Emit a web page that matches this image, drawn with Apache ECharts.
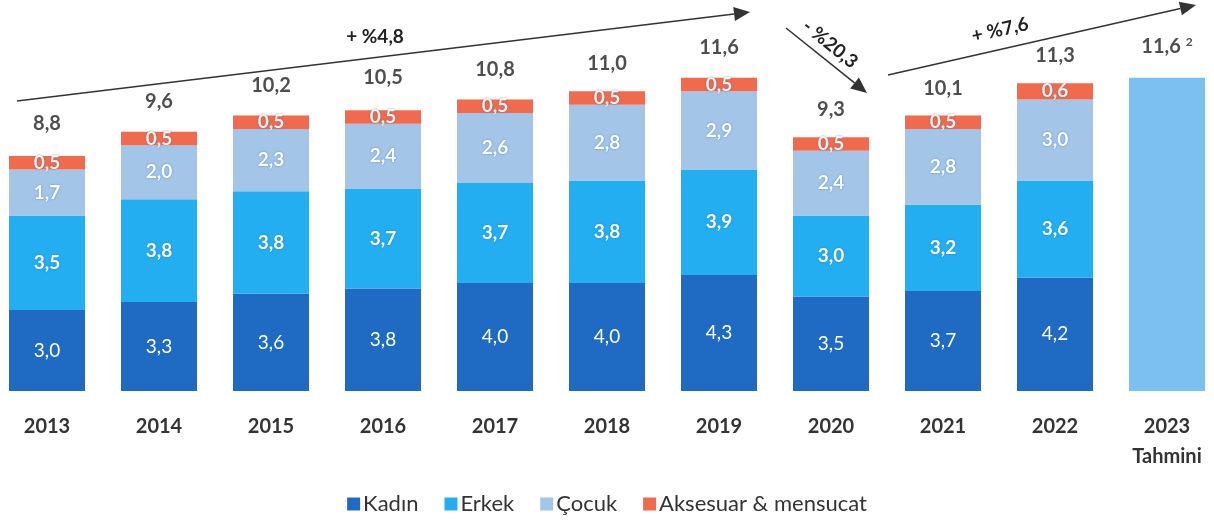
<!DOCTYPE html>
<html>
<head>
<meta charset="utf-8">
<script src="https://cdn.jsdelivr.net/npm/echarts@6/dist/echarts.min.js"></script>
<style>
  html, body { margin: 0; padding: 0; background: #fff; }
  #chart { width: 1214px; height: 522px; }
</style>
</head>
<body>
<div id="chart"></div>
<script>
// veriler
const years = ['2013', '2014', '2015', '2016', '2017', '2018', '2019', '2020', '2021', '2022', '2023\nTahmini']
const kadin = [3.0, 3.3, 3.6, 3.8, 4.0, 4.0, 4.3, 3.5, 3.7, 4.2, null]
const erkek = [3.5, 3.8, 3.8, 3.7, 3.7, 3.8, 3.9, 3.0, 3.2, 3.6, null]
const cocuk = [1.7, 2.0, 2.3, 2.4, 2.6, 2.8, 2.9, 2.4, 2.8, 3.0, null]
const aksesuar = [0.5, 0.5, 0.5, 0.5, 0.5, 0.5, 0.5, 0.5, 0.5, 0.6, null]
const tahmin = [null, null, null, null, null, null, null, null, null, null, 11.6]
const totals = [8.8, 9.6, 10.2, 10.5, 10.8, 11.0, 11.6, 9.3, 10.1, 11.3, 11.6]
const growth = ['+ %4,8', '- %20,3', '+ %7,6']

const chartBox = echarts.init(document.getElementById('chart'))
const fontName = 'Lato, "Open Sans", sans-serif'
const fmt = (v) => String(v.toFixed(1)).replace('.', ',')

// ok ciz
function arrow(x1, y1, x2, y2) {
  const a = Math.atan2(y2 - y1, x2 - x1)
  const len = 16, w = 7
  const bx = x2 - len * Math.cos(a), by = y2 - len * Math.sin(a)
  return [
    { type: 'line', shape: { x1: x1, y1: y1, x2: bx, y2: by }, style: { stroke: '#333', lineWidth: 1.6 } },
    {
      type: 'polygon',
      shape: { points: [[x2, y2], [bx + w * Math.sin(a), by - w * Math.cos(a)], [bx - w * Math.sin(a), by + w * Math.cos(a)]] },
      style: { fill: '#333' }
    }
  ]
}

const segLabel = (color, weight) => ({
  show: true,
  position: 'inside',
  fontFamily: fontName,
  fontSize: 19,
  fontWeight: weight,
  color: color,
  textShadowColor: 'rgba(30,110,200,0.7)',
  textShadowBlur: 2,
  formatter: (p) => fmt(p.value)
})

const mkBar = (name, data, color, labelColor, weight) => ({
  name: name,
  type: 'bar',
  stack: 'a',
  barWidth: 76,
  data: data,
  itemStyle: { color: color },
  label: segLabel(labelColor, weight)
})

const option = {
  backgroundColor: '#fff',
  animation: false,
  grid: { left: -9, right: -9, top: 67, bottom: 131, outerBoundsMode: 'none' },
  xAxis: {
    type: 'category',
    data: years,
    axisLine: { show: false },
    axisTick: { show: false },
    axisLabel: {
      margin: 21,
      fontFamily: fontName,
      fontSize: 20,
      fontWeight: 'bold',
      color: '#333',
      lineHeight: 30,
      interval: 0
    }
  },
  yAxis: { type: 'value', min: 0, max: 12, show: false, splitLine: { show: false } },
  legend: {
    bottom: 2,
    left: 'center',
    itemWidth: 13,
    itemHeight: 13,
    itemGap: 26,
    icon: 'rect',
    data: ['Kadın', 'Erkek', 'Çocuk', 'Aksesuar & mensucat'],
    textStyle: { fontFamily: fontName, fontSize: 22, color: '#333', padding: [0, 0, 0, -2] }
  },
  series: [
    mkBar('Kadın', kadin, '#1F6BC4', '#fff', 'normal'),
    mkBar('Erkek', erkek, '#22AEF0', '#fff', 'bold'),
    mkBar('Çocuk', cocuk, '#A3C5E8', '#fff', 'bold'),
    mkBar('Aksesuar & mensucat', aksesuar, '#F26A4E', '#FDF1E0', 'bold'),
    {
      name: 'Tahmin',
      type: 'bar',
      stack: 'a',
      barWidth: 76,
      data: tahmin,
      itemStyle: { color: '#7CC0F2' }
    },
    {
      name: 'Toplam',
      type: 'scatter',
      symbolSize: 0,
      data: totals,
      z: 5,
      label: {
        show: true,
        position: 'top',
        distance: 20,
        fontFamily: fontName,
        fontSize: 20,
        fontWeight: 'bold',
        color: '#222',
        formatter: (p) => p.dataIndex === totals.length - 1 ? fmt(p.value) + ' {sup|2}' : fmt(p.value),
        rich: { sup: { fontSize: 12, fontWeight: 'bold', color: '#222', verticalAlign: 'top', padding: [0, 0, 10, 0] } }
      }
    }
  ],
  graphic: [
    ...arrow(17, 101, 750, 12),
    ...arrow(786, 28, 867, 93),
    ...arrow(888, 75, 1196, 5),
    {
      type: 'text', x: 375, y: 37,
      style: { text: growth[0], font: 'bold 19px ' + fontName, fill: '#222', align: 'center', verticalAlign: 'middle' }
    },
    {
      type: 'text', x: 830, y: 44, rotation: -0.68,
      style: { text: growth[1], font: 'bold 19px ' + fontName, fill: '#222', align: 'center', verticalAlign: 'middle' }
    },
    {
      type: 'text', x: 1000, y: 30, rotation: 0.22,
      style: { text: growth[2], font: 'bold 19px ' + fontName, fill: '#222', align: 'center', verticalAlign: 'middle' }
    }
  ]
}

chartBox.setOption(option, true)
window.addEventListener('resize', function () {
  chartBox.resize()
})
</script>
</body>
</html>
